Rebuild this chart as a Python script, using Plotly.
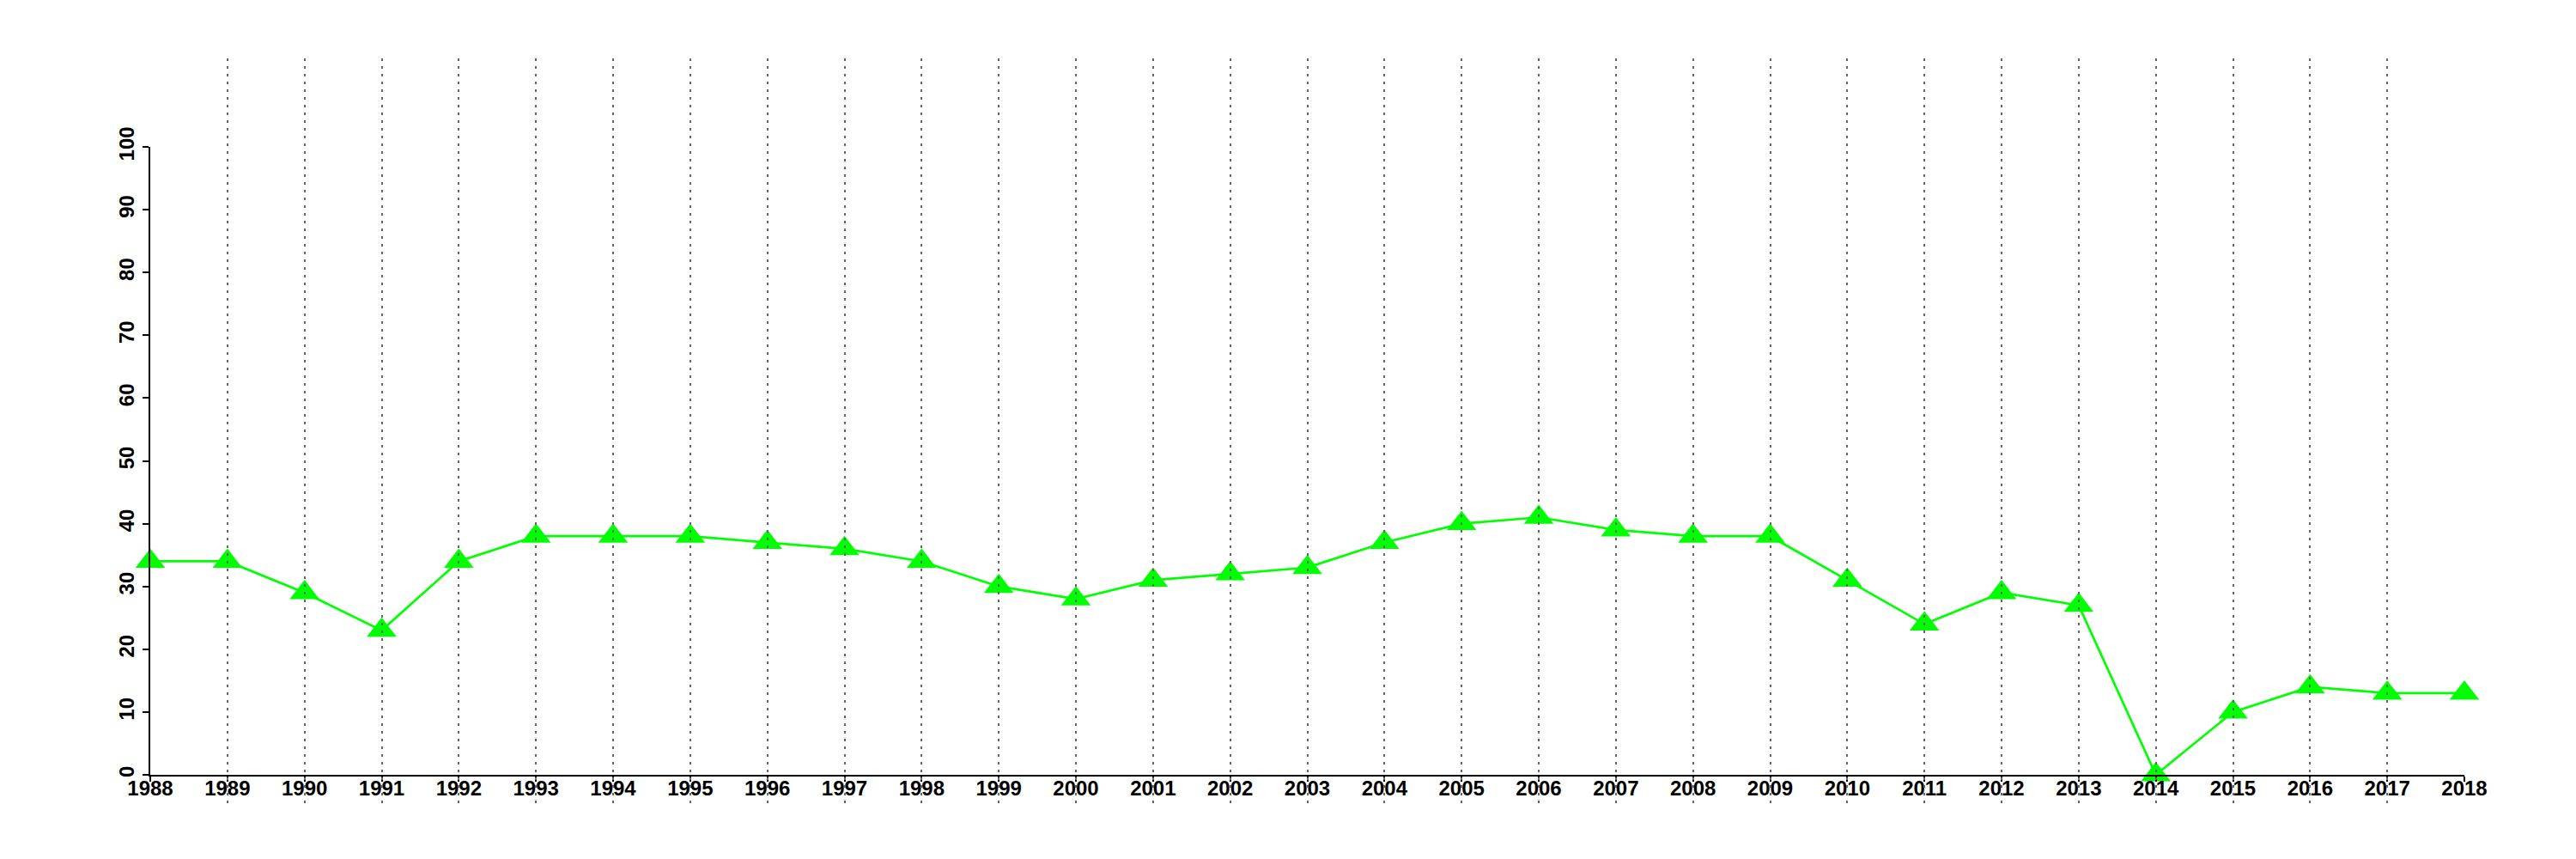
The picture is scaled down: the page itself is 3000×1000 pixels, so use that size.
import plotly.graph_objects as go

years = list(range(1988, 2019))
values = [34, 34, 29, 23, 34, 38, 38, 38, 37, 36, 34, 30, 28, 31, 32, 33, 37, 40, 41,
          39, 38, 38, 31, 24, 29, 27, 0, 10, 14, 13, 13]
y_ticks = list(range(0, 101, 10))
x_tick_labels = [str(y) for y in years]

W, H = 3000, 1000
left, right, top, bottom = 167, 138, 60, 73
plot_h = H - top - bottom
y0_px, y100_px = 894, 163
dom_lo = (H - bottom - y0_px) / plot_h
dom_hi = (H - bottom - y100_px) / plot_h

tickfont = dict(family="Liberation Sans", size=24, color="black", weight="bold")

fig = go.Figure()
fig.add_trace(go.Scatter(
    x=years, y=values, mode="lines+markers",
    line=dict(color="#00FF00", width=2.7),
    marker=dict(symbol="triangle-up", size=30, color="#00FF00", line=dict(width=0)),
    cliponaxis=False, showlegend=False, xaxis="x", yaxis="y",
))
# invisible trace to activate the grid subplot
fig.add_trace(go.Scatter(
    x=[years[0]], y=[0.5], mode="markers", marker=dict(opacity=0),
    showlegend=False, hoverinfo="skip", xaxis="x2", yaxis="y2",
))

fig.update_layout(
    width=W, height=H,
    margin=dict(l=left, r=right, t=top, b=bottom),
    paper_bgcolor="white", plot_bgcolor="rgba(0,0,0,0)",
    xaxis=dict(domain=[0, 1], range=[1988, 2018], anchor="y",
               showline=True, linecolor="black", linewidth=2,
               ticks="outside", ticklen=6, tickwidth=2, tickcolor="black",
               tickvals=years, ticktext=x_tick_labels, tickfont=tickfont,
               ticklabelstandoff=-13,
               showgrid=False, zeroline=False),
    yaxis=dict(domain=[dom_lo, dom_hi], range=[0, 100], anchor="x",
               showline=True, linecolor="black", linewidth=2,
               ticks="outside", ticklen=7, tickwidth=2, tickcolor="black",
               tickvals=y_ticks, tickangle=-90, tickfont=tickfont,
               showgrid=False, zeroline=False),
    xaxis2=dict(domain=[0, 1], range=[1988, 2018], anchor="y2",
                showgrid=True, gridcolor="#666666", gridwidth=2.2, griddash="3px,6px",
                tickvals=years, showticklabels=False, ticks="", showline=False,
                zeroline=False),
    yaxis2=dict(domain=[0, 1], range=[0, 1], anchor="x2", visible=False,
                showgrid=False, zeroline=False),
)

fig.write_html("out.html")
